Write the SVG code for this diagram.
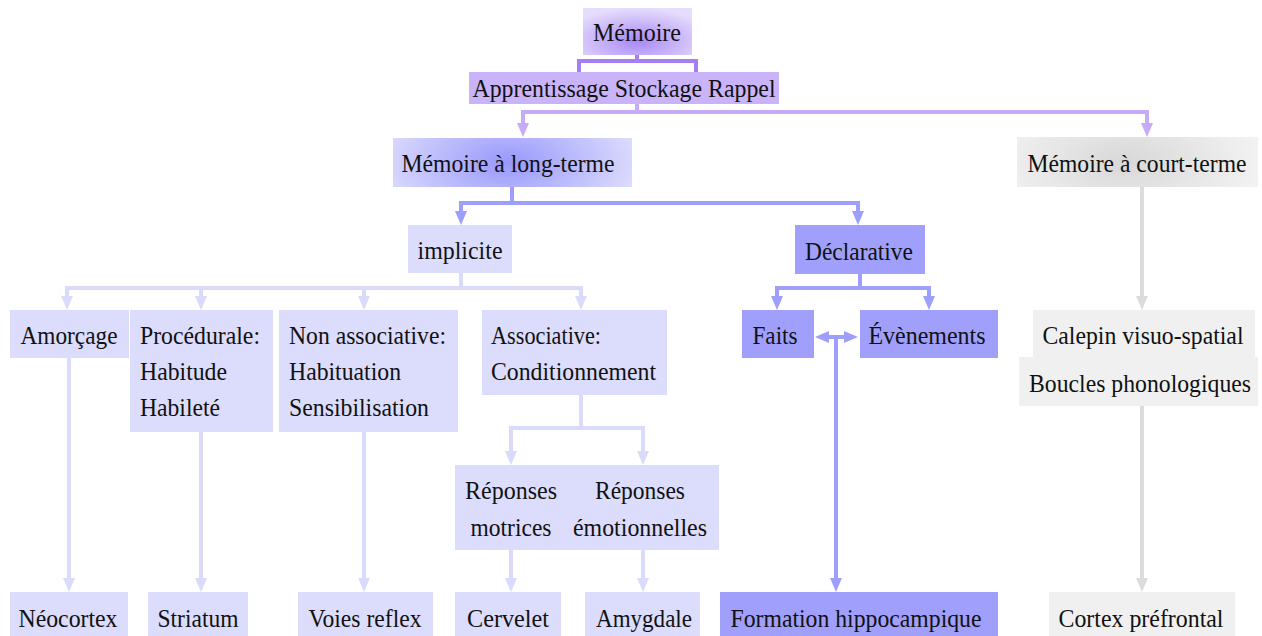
<svg xmlns="http://www.w3.org/2000/svg" width="1262" height="636" viewBox="0 0 1262 636">
<style>
text{font-family:"Liberation Serif","Times New Roman",Times,serif;font-size:25px;fill:#111;}
.c{text-anchor:middle;}
.lav{fill:#dcdcfc;}
.blu{fill:#a0a0fc;}
.gry{fill:#f0f0f0;}
.ln{fill:none;stroke-width:4;}
.lp{stroke:#c6abf8;}
.lpd{stroke:#a57ff1;}
.lb{stroke:#9e9efc;}
.ll{stroke:#dadafa;}
.lg{stroke:#dcdcdc;}
</style>
<defs>
<radialGradient id="gMem" cx="0.5" cy="0.7" r="0.7">
<stop offset="0" stop-color="#a888f7"/><stop offset="1" stop-color="#e6ddfc"/>
</radialGradient>
<radialGradient id="gLong" cx="0.48" cy="0.5" r="0.6" gradientTransform="translate(0.5 0.5) scale(1 2.5) translate(-0.5 -0.5)">
<stop offset="0" stop-color="#9898fc"/><stop offset="1" stop-color="#e2e2fd"/>
</radialGradient>
<radialGradient id="gCourt" cx="0.45" cy="0.5" r="0.6" gradientTransform="translate(0.5 0.5) scale(1 2.5) translate(-0.5 -0.5)">
<stop offset="0" stop-color="#d8d8d8"/><stop offset="1" stop-color="#f4f4f4"/>
</radialGradient>
<marker id="aP" viewBox="0 0 14 12" refX="4" refY="6" markerWidth="14" markerHeight="12" markerUnits="userSpaceOnUse" orient="auto-start-reverse"><path d="M0,0L14,6L0,12z" fill="#c6abf8"/></marker>
<marker id="aB" viewBox="0 0 14 12" refX="4" refY="6" markerWidth="14" markerHeight="12" markerUnits="userSpaceOnUse" orient="auto-start-reverse"><path d="M0,0L14,6L0,12z" fill="#9e9efc"/></marker>
<marker id="aL" viewBox="0 0 14 12" refX="4" refY="6" markerWidth="14" markerHeight="12" markerUnits="userSpaceOnUse" orient="auto-start-reverse"><path d="M0,0L14,6L0,12z" fill="#dadafa"/></marker>
<marker id="aG" viewBox="0 0 14 12" refX="4" refY="6" markerWidth="14" markerHeight="12" markerUnits="userSpaceOnUse" orient="auto-start-reverse"><path d="M0,0L14,6L0,12z" fill="#dcdcdc"/></marker>
</defs>

<g id="connectors">
<path class="ln lpd" d="M637,55V61M579,72V61H696V72"/>
<path class="ln lp" d="M637,104V112H523V127" marker-end="url(#aP)"/>
<path class="ln lp" d="M637,112H1147V127" marker-end="url(#aP)"/>
<path class="ln lb" d="M512,187V203H461V215" marker-end="url(#aB)"/>
<path class="ln lb" d="M512,203H858V215" marker-end="url(#aB)"/>
<path class="ln ll" d="M461,273V288H67V300" marker-end="url(#aL)"/>
<path class="ln ll" d="M201,288V300" marker-end="url(#aL)"/>
<path class="ln ll" d="M364,288V300" marker-end="url(#aL)"/>
<path class="ln ll" d="M461,288H581V300" marker-end="url(#aL)"/>
<path class="ln lb" d="M860,274V288H777V300" marker-end="url(#aB)"/>
<path class="ln lb" d="M860,288H929V300" marker-end="url(#aB)"/>
<path class="ln lb" d="M825,337H848" marker-start="url(#aB)" marker-end="url(#aB)"/>
<path class="ln lb" d="M836,337V582" marker-end="url(#aB)"/>
<path class="ln ll" d="M69,358V582" marker-end="url(#aL)"/>
<path class="ln ll" d="M201,432V582" marker-end="url(#aL)"/>
<path class="ln ll" d="M364,432V582" marker-end="url(#aL)"/>
<path class="ln ll" d="M581,395V428H511V455" marker-end="url(#aL)"/>
<path class="ln ll" d="M581,428H643V455" marker-end="url(#aL)"/>
<path class="ln ll" d="M511,550V582" marker-end="url(#aL)"/>
<path class="ln ll" d="M643,550V582" marker-end="url(#aL)"/>
<path class="ln lg" d="M1142,187V300" marker-end="url(#aG)"/>
<path class="ln lg" d="M1142,406V582" marker-end="url(#aG)"/>
</g>

<g id="memoire"><rect x="583" y="8" width="109" height="47" fill="url(#gMem)"/><text class="c" x="637" y="41" textLength="88" lengthAdjust="spacingAndGlyphs">Mémoire</text></g>
<g id="apprentissage"><rect x="469" y="72" width="310" height="32" fill="#c9b4fa"/><text class="c" x="624" y="97" textLength="303" lengthAdjust="spacingAndGlyphs">Apprentissage Stockage Rappel</text></g>
<g id="long-terme"><rect x="393" y="138" width="239" height="49" fill="url(#gLong)"/><text class="c" x="508" y="172" textLength="213" lengthAdjust="spacingAndGlyphs">Mémoire à long-terme</text></g>
<g id="court-terme"><rect x="1017" y="137" width="241" height="50" fill="url(#gCourt)"/><text class="c" x="1137" y="172" textLength="219" lengthAdjust="spacingAndGlyphs">Mémoire à court-terme</text></g>
<g id="implicite"><rect class="lav" x="408" y="225" width="104" height="48"/><text class="c" x="460" y="259" textLength="85" lengthAdjust="spacingAndGlyphs">implicite</text></g>
<g id="declarative"><rect class="blu" x="795" y="225" width="130" height="49"/><text class="c" x="859" y="260" textLength="108" lengthAdjust="spacingAndGlyphs">Déclarative</text></g>
<g id="amorcage"><rect class="lav" x="10" y="310" width="119" height="48"/><text class="c" x="69" y="344" textLength="97" lengthAdjust="spacingAndGlyphs">Amorçage</text></g>
<g id="procedurale"><rect class="lav" x="130" y="310" width="143" height="122"/>
<text x="140" y="344" textLength="120" lengthAdjust="spacingAndGlyphs">Procédurale:</text>
<text x="140" y="380" textLength="87" lengthAdjust="spacingAndGlyphs">Habitude</text>
<text x="140" y="416" textLength="80" lengthAdjust="spacingAndGlyphs">Habileté</text></g>
<g id="non-associative"><rect class="lav" x="279" y="310" width="179" height="122"/>
<text x="289" y="344" textLength="157" lengthAdjust="spacingAndGlyphs">Non associative:</text>
<text x="289" y="380" textLength="112" lengthAdjust="spacingAndGlyphs">Habituation</text>
<text x="289" y="416" textLength="140" lengthAdjust="spacingAndGlyphs">Sensibilisation</text></g>
<g id="associative"><rect class="lav" x="482" y="310" width="185" height="85"/>
<text x="491" y="344" textLength="110" lengthAdjust="spacingAndGlyphs">Associative:</text>
<text x="491" y="380" textLength="165" lengthAdjust="spacingAndGlyphs">Conditionnement</text></g>
<g id="faits"><rect class="blu" x="742" y="310" width="72" height="48"/><text class="c" x="775" y="344" textLength="45" lengthAdjust="spacingAndGlyphs">Faits</text></g>
<g id="evenements"><rect class="blu" x="860" y="310" width="138" height="48"/><text class="c" x="927" y="344" textLength="117" lengthAdjust="spacingAndGlyphs">Évènements</text></g>
<g id="calepin-boucles"><rect class="gry" x="1033" y="310" width="222" height="48"/><rect class="gry" x="1019" y="357" width="239" height="49"/>
<text class="c" x="1143" y="344" textLength="201" lengthAdjust="spacingAndGlyphs">Calepin visuo-spatial</text>
<text class="c" x="1140" y="392" textLength="222" lengthAdjust="spacingAndGlyphs">Boucles phonologiques</text></g>
<g id="reponses"><rect class="lav" x="455" y="465" width="264" height="85"/>
<text class="c" x="511" y="499" textLength="92" lengthAdjust="spacingAndGlyphs">Réponses</text>
<text class="c" x="511" y="536" textLength="81" lengthAdjust="spacingAndGlyphs">motrices</text>
<text class="c" x="640" y="499" textLength="90" lengthAdjust="spacingAndGlyphs">Réponses</text>
<text class="c" x="640" y="536" textLength="134" lengthAdjust="spacingAndGlyphs">émotionnelles</text></g>
<g id="neocortex"><rect class="lav" x="10" y="592" width="118" height="48"/><text class="c" x="68" y="627" textLength="99" lengthAdjust="spacingAndGlyphs">Néocortex</text></g>
<g id="striatum"><rect class="lav" x="148" y="592" width="100" height="48"/><text class="c" x="198" y="627" textLength="81" lengthAdjust="spacingAndGlyphs">Striatum</text></g>
<g id="voies-reflex"><rect class="lav" x="298" y="592" width="135" height="48"/><text class="c" x="365" y="627" textLength="113" lengthAdjust="spacingAndGlyphs">Voies reflex</text></g>
<g id="cervelet"><rect class="lav" x="455" y="592" width="106" height="48"/><text class="c" x="508" y="627" textLength="82" lengthAdjust="spacingAndGlyphs">Cervelet</text></g>
<g id="amygdale"><rect class="lav" x="585" y="592" width="115" height="48"/><text class="c" x="644" y="627" textLength="96" lengthAdjust="spacingAndGlyphs">Amygdale</text></g>
<g id="formation"><rect class="blu" x="720" y="592" width="278" height="48"/><text class="c" x="856" y="627" textLength="251" lengthAdjust="spacingAndGlyphs">Formation hippocampique</text></g>
<g id="cortex"><rect class="gry" x="1049" y="592" width="186" height="48"/><text class="c" x="1141" y="627" textLength="165" lengthAdjust="spacingAndGlyphs">Cortex préfrontal</text></g>
</svg>
